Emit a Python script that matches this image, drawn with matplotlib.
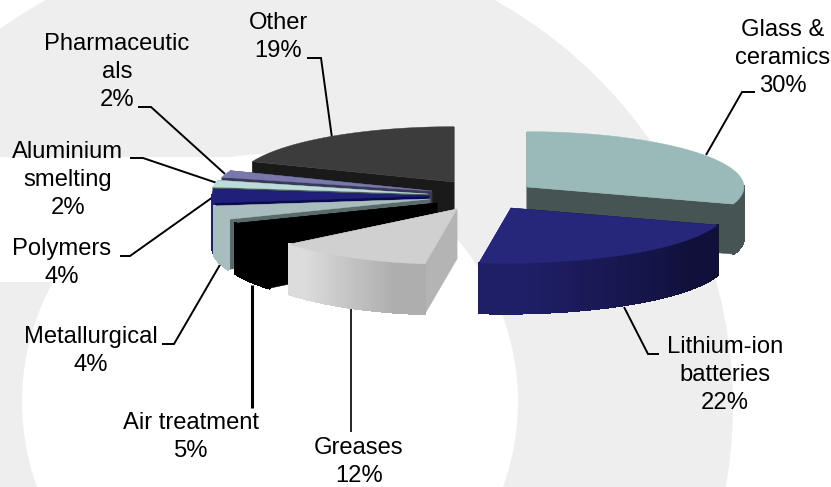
import numpy as np
import matplotlib
matplotlib.use("Agg")
import matplotlib.pyplot as plt
from matplotlib.patches import Circle, Rectangle, Polygon
from matplotlib.collections import PolyCollection
from matplotlib.colors import to_rgb

labels = ["Glass &\nceramics", "Lithium-ion\nbatteries", "Greases", "Air treatment", "Metallurgical",
          "Polymers", "Aluminium\nsmelting", "Pharmaceutic\nals", "Other"]
values = [30, 22, 12, 5, 4, 4, 2, 2, 19]

# Layout (exploded slice apexes, pixels) and styling
apex_x = [527, 511, 457, 437, 430, 429, 428, 432, 454]
apex_y = [187, 208, 209, 203, 199, 196, 194, 191, 182]
top_col = ["#9ab9b9", "#26267a", "#d0d0d0", "#000000", "#a9bdbf", "#20207a", "#bcdcdc", "#7878ac", "#3c3c3c"]
wall_col = ["#465454", "#10103c", "#b4b4b4", "#000000", "#586a6a", "#0a0a50", "#4a5a5a", "#3a3a58", "#1a1a1a"]
outer_a = ["#465454", "#10103a", "#aeaeae", "#000000", "#a8bdbd", "#20207a", "#4a5a5a", "#3a3a58", "#1a1a1a"]
outer_b = ["#465454", "#1f1f68", "#dcdcdc", "#000000", "#a8bdbd", "#20207a", "#4a5a5a", "#3a3a58", "#1a1a1a"]
draw_order = [8, 0, 7, 6, 5, 4, 3, 2, 1]
R, K, H = 217.0, 0.255, 50.0
GREY = "#eeeeee"

label_x = [783, 725, 359, 191, 91, 62, 68, 117, 278]
label_y = [58, 375, 462, 437, 351, 263, 180, 72, 37]
leader_x = [[755, 742, 706], [659, 648, 624], [351, 351], [252, 252], [162, 174, 221],
            [120, 130, 213], [130, 143, 217], [138, 151, 225], [307, 321, 332]]
leader_y = [[92, 92, 155], [354, 354, 307], [432, 300], [408, 285], [344, 344, 263],
            [256, 256, 197], [158, 158, 183], [107, 107, 174], [58, 58, 138]]
leader_w = [1.4, 1.4, 1.2, 2.2, 1.4, 1.4, 1.4, 1.4, 1.4]

plt.rcParams["font.family"] = ["Liberation Sans", "DejaVu Sans"]
fig = plt.figure(figsize=(8.31, 4.87), dpi=100, facecolor="white")
ax = fig.add_axes([0, 0, 1, 1])
ax.set_xlim(0, 831)
ax.set_ylim(487, 0)
ax.axis("off")

# Watermark
ax.add_patch(Circle((270, 405), 463, fc=GREY, ec="none", zorder=0))
ax.add_patch(Circle((270, 402), 248, fc="white", ec="none", zorder=1))
ax.add_patch(Rectangle((0, 157), 270, 125, fc="white", ec="none", zorder=1))

# Leaders
for lx, ly, lw in zip(leader_x, leader_y, leader_w):
    ax.plot(lx, ly, color="black", lw=lw, solid_joinstyle="miter", solid_capstyle="butt", zorder=2)

# Slice angles, clockwise from 12 o'clock
edges = np.deg2rad(np.cumsum([0] + values) * 3.6)


def rim(i, a):
    # slight perspective widening towards the viewer
    return (apex_x[i] + R * np.sin(a) - 5 * np.maximum(0, -np.cos(a)) ** 6,
            apex_y[i] - R * K * np.cos(a))


z = 3
for i in draw_order:
    a0, a1 = edges[i], edges[i + 1]
    ax0, ay0 = apex_x[i], apex_y[i]
    # radial walls
    for a in (a0, a1):
        x, y = rim(i, a)
        ax.add_patch(Polygon([(ax0, ay0), (x, y), (x, y + H), (ax0, ay0 + H)],
                             fc=wall_col[i], ec=wall_col[i], lw=0.3, zorder=z))
    # curved outer wall, strip by strip
    aa = np.linspace(a0, a1, max(int(np.degrees(a1 - a0)), 2) + 1)
    polys, cols = [], []
    ca, cb = np.array(to_rgb(outer_a[i])), np.array(to_rgb(outer_b[i]))
    for j in range(len(aa) - 1):
        m = (aa[j] + aa[j + 1]) / 2
        if np.cos(m) > 0.02:
            continue
        xa, ya = rim(i, aa[j])
        xb, yb = rim(i, aa[j + 1])
        polys.append([(xa, ya), (xb, yb), (xb, yb + H), (xa, ya + H)])
        t = (j + 0.5) / (len(aa) - 1)
        cols.append(ca + (cb - ca) * min(1, t * 1.5 - 0.3 if t > 0.2 else 0))
    if polys:
        ax.add_collection(PolyCollection(polys, facecolors=cols, edgecolors=cols, linewidths=1.2,
                                         antialiaseds=False, zorder=z))
    # top face
    xs, ys = rim(i, aa)
    ax.add_patch(Polygon(np.column_stack([np.r_[ax0, xs], np.r_[ay0, ys]]),
                         fc=top_col[i], ec=top_col[i], lw=0.3, zorder=z + 0.5))
    z += 1

# Labels
for name, v, x, y in zip(labels, values, label_x, label_y):
    ax.text(x, y, f"{name}\n{v}%", ha="center", va="center", ma="center",
            fontsize=17.1, color="black", linespacing=1.36, zorder=30)

fig.savefig("out.png", dpi=100, facecolor="white")
